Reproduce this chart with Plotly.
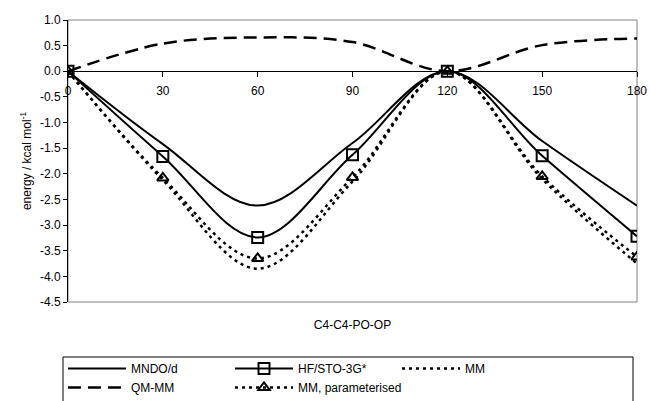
import plotly.graph_objects as go

# Torsion angle C4-C4-PO-OP (degrees) and relative energies (kcal/mol)
angles = [0, 30, 60, 90, 120, 150, 180]
mndo_d = [0.0, -1.42, -2.62, -1.40, 0.0, -1.36, -2.62]
hf_sto3g = [0.0, -1.66, -3.24, -1.63, 0.0, -1.65, -3.22]
mm = [0.0, -2.12, -3.85, -2.15, 0.0, -2.10, -3.75]
qm_mm = [0.0, 0.54, 0.66, 0.57, 0.0, 0.51, 0.64]
mm_param = [0.0, -2.08, -3.65, -2.07, 0.0, -2.05, -3.62]

x_ticks = [0, 30, 60, 90, 120, 150, 180]
y_ticks = [1.0, 0.5, 0.0, -0.5, -1.0, -1.5, -2.0, -2.5, -3.0, -3.5, -4.0, -4.5]
y_tick_text = [f"{v:.1f}" for v in y_ticks]

y_min, y_max = -4.5, 1.0
FONT = "Liberation Sans, Arial, sans-serif"

fig = go.Figure()


def spline(width, dash="solid"):
    return dict(color="black", width=width, dash=dash, shape="spline", smoothing=1)


fig.add_trace(go.Scatter(x=angles, y=mndo_d, name="MNDO/d", mode="lines",
                         line=spline(2), hoverinfo="skip"))
fig.add_trace(go.Scatter(x=angles, y=hf_sto3g, name="HF/STO-3G*", mode="lines+markers",
                         line=spline(2),
                         marker=dict(symbol="square-open", size=11, color="black",
                                     line=dict(width=2)),
                         hoverinfo="skip"))
fig.add_trace(go.Scatter(x=angles, y=mm, name="MM", mode="lines",
                         line=spline(2.5, "3px,4px"), hoverinfo="skip"))
fig.add_trace(go.Scatter(x=angles, y=qm_mm, name="QM-MM", mode="lines",
                         line=spline(2.5, "13px,7px"), hoverinfo="skip"))
fig.add_trace(go.Scatter(x=angles, y=mm_param, name="MM, parameterised",
                         mode="lines+markers", line=spline(2.5, "3px,4px"),
                         marker=dict(symbol="triangle-up-open", size=10, color="black",
                                     line=dict(width=2)),
                         hoverinfo="skip"))

# Invisible point that puts the zero-line axis (xaxis2) on the page
fig.add_trace(go.Scatter(x=[0], y=[0], xaxis="x2", mode="markers",
                         marker=dict(opacity=0), showlegend=False, hoverinfo="skip"))

# Axis line through zero energy, carrying the angle tick labels
zero_pos = (0 - y_min) / (y_max - y_min)

# Plot area and legend frame in pixels, converted to plot-area fractions below
plot_top, plot_bottom, plot_left, plot_right = 20, 302, 68, 637
plot_h = plot_bottom - plot_top
plot_w = plot_right - plot_left
box_left, box_right, box_top, box_bottom = 63, 633, 357, 404
legend_top = 354

fig.update_layout(
    width=650, height=401,
    margin=dict(l=plot_left, r=650 - plot_right, t=plot_top, b=401 - plot_bottom,
                autoexpand=False),
    paper_bgcolor="white", plot_bgcolor="white",
    font=dict(family=FONT, size=12, color="black"),
    showlegend=True,
    xaxis=dict(
        range=[0, 180], showticklabels=False, ticks="", showgrid=False,
        zeroline=False, showline=False,
        title=dict(text="C4-C4-PO-OP", standoff=18,
                   font=dict(family=FONT, size=12)),
    ),
    xaxis2=dict(
        range=[0, 180], overlaying="x", anchor="free", position=zero_pos,
        side="bottom", tickvals=x_ticks, ticktext=[str(t) for t in x_ticks],
        ticks="outside", ticklen=5, tickwidth=1, tickcolor="black",
        ticklabelstandoff=3,
        showline=True, linecolor="black", linewidth=1, showgrid=False,
        zeroline=False, tickfont=dict(family=FONT, size=12),
    ),
    yaxis=dict(
        range=[y_min, y_max], tickvals=y_ticks, ticktext=y_tick_text,
        ticks="outside", ticklen=4, tickwidth=1, tickcolor="black",
        showline=True, linecolor="black", linewidth=1, showgrid=False,
        zeroline=False, tickfont=dict(family=FONT, size=12),
        title=dict(text="energy / kcal mol<sup>-1</sup>", standoff=5,
                   font=dict(family=FONT, size=12)),
    ),
    legend=dict(
        orientation="h",
        x=(box_left - plot_left) / plot_w, xanchor="left",
        y=(plot_bottom - legend_top) / plot_h, yanchor="top",
        borderwidth=0, bgcolor="rgba(0,0,0,0)",
        entrywidth=94, itemwidth=58, tracegroupgap=0,
        font=dict(family=FONT, size=12),
    ),
    shapes=[
        dict(type="rect", xref="paper", yref="paper", x0=0, x1=1, y0=0, y1=1,
             line=dict(color="#808080", width=1), layer="below"),
        dict(type="rect", xref="paper", yref="paper",
             x0=(box_left - plot_left) / plot_w, x1=(box_right - plot_left) / plot_w,
             y0=(plot_bottom - box_bottom) / plot_h, y1=(plot_bottom - box_top) / plot_h,
             line=dict(color="black", width=1), layer="below"),
    ],
)

fig.write_html("out.html")
